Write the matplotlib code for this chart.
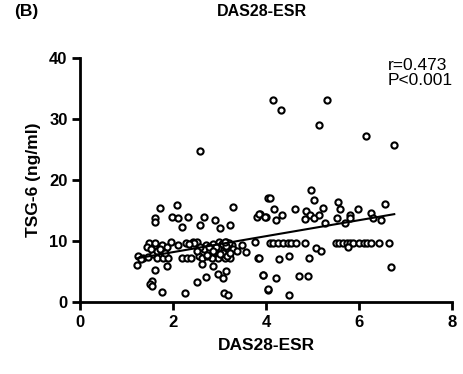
import matplotlib.pyplot as plt
import numpy as np

plt.rcParams['font.family'] = ['Liberation Sans', 'DejaVu Sans']

# DAS28-ESR (x) vs TSG-6 ng/ml (y)
das28 = [
    # high outliers
    4.16, 4.33, 5.32, 5.15, 6.15, 6.76, 2.59,
    # upper group, left half
    1.72, 2.08, 1.62, 1.62, 1.98, 2.11, 2.32, 2.19, 2.66, 2.59, 2.90, 3.01, 3.23, 3.29,
    3.80, 3.87, 3.99, 4.04, 4.08, 3.86, 3.97,
    # upper group, right half
    4.18, 4.22, 4.35, 4.63, 4.96, 5.04, 4.86, 4.94, 4.85, 5.04, 5.15, 5.22, 5.26,
    5.54, 5.60, 5.53, 5.80, 5.81, 5.71, 5.99, 6.26, 6.30, 6.48, 6.57,
    # dense band, left
    1.23, 1.25, 1.36, 1.47, 1.56, 1.66, 1.78, 1.90, 1.49, 1.43, 1.58, 1.65, 1.76, 1.88,
    1.72, 1.52, 1.32, 1.62, 1.82, 1.95,
    # dense band, middle
    2.11, 2.19, 2.29, 2.39, 2.28, 2.44, 2.51, 2.56, 2.62, 2.71, 2.76, 2.81, 2.85, 2.90,
    2.94, 2.97, 3.01, 3.05, 3.10, 3.14, 3.15, 3.19, 3.23, 3.26, 3.30, 2.83, 2.72, 2.67,
    2.59, 2.51, 2.98, 3.06, 3.12, 2.88, 2.78, 3.20, 3.03, 2.93, 2.46, 2.35,
    3.08, 3.13, 3.17, 2.96, 3.00, 2.92, 3.22, 3.11, 2.86, 2.74,
    3.38, 3.58, 3.48, 3.76, 3.83,
    # row at ~9.7, right
    4.08, 4.15, 4.25, 4.36, 4.47, 4.54, 4.65, 4.83,
    5.51, 5.58, 5.65, 5.74, 5.81, 5.88, 6.01, 6.10, 6.17, 6.26, 6.43, 6.64,
    5.76, 5.08, 5.19, 3.86, 4.29, 4.49, 4.92, 6.69,
    # low values
    1.61, 1.88, 1.54, 1.50, 1.54, 1.76, 2.26, 2.52, 2.70, 2.62, 2.87, 2.97, 3.07, 3.15,
    3.10, 3.19, 3.93, 4.04, 3.93, 4.22, 4.72, 4.90, 4.05, 4.49,
]
tsg6 = [
    33.2, 31.5, 33.1, 29.1, 27.3, 25.8, 24.8,
    15.4, 15.9, 13.8, 13.1, 13.9, 13.8, 13.9, 12.3, 13.9, 12.6, 13.4, 12.1, 12.6, 15.6,
    14.0, 14.5, 13.9, 17.0, 17.0, 14.4, 14.0,
    15.3, 13.5, 14.2, 15.2, 18.3, 16.8, 14.9, 14.2, 13.6, 13.8, 14.2, 15.4, 12.9,
    16.4, 15.2, 13.8, 14.2, 13.8, 12.9, 15.2, 14.6, 13.8, 13.5, 16.1,
    6.1, 7.6, 7.3, 7.4, 7.9, 7.2, 7.2, 7.3, 9.7, 9.0, 9.1, 8.4, 9.3, 9.1,
    8.7, 8.7, 7.0, 9.6, 8.0, 9.8,
    9.4, 7.3, 7.2, 7.2, 9.6, 9.8, 9.8, 7.6, 7.2, 9.3, 8.4, 7.6, 9.5, 8.7,
    7.9, 7.3, 9.4, 8.4, 7.6, 9.8, 9.0, 8.2, 7.3, 9.4, 8.7, 7.2, 7.6, 8.7,
    9.0, 8.4, 9.8, 9.5, 7.3, 8.2, 9.0, 9.6, 7.9, 8.7, 9.6, 9.5,
    8.0, 9.2, 7.5, 8.9, 7.8, 9.0, 8.1, 9.9, 8.3, 7.7,
    8.3, 8.2, 9.4, 9.8, 7.2,
    9.7, 9.7, 9.7, 9.7, 9.7, 9.7, 9.7, 9.7,
    9.7, 9.7, 9.7, 9.7, 9.7, 9.7, 9.7, 9.7, 9.7, 9.7, 9.7, 9.7,
    9.0, 8.9, 8.3, 7.2, 7.1, 7.5, 7.2, 5.8,
    5.2, 5.9, 3.5, 3.0, 2.6, 1.7, 1.4, 3.2, 4.1, 6.3, 5.9, 4.6, 3.9, 5.1,
    1.5, 1.2, 4.5, 2.0, 4.5, 4.0, 4.3, 4.3, 2.1, 1.2,
]

r_text = "r=0.473\nP<0.001"

x = np.array(das28)
y = np.array(tsg6)

fig = plt.figure(figsize=(4.63, 3.74), dpi=100)
ax = fig.add_axes([0.173, 0.1925, 0.803, 0.652])

ax.scatter(x, y, s=20, facecolors='white', edgecolors='black', linewidths=1.5, zorder=3)

# linear fit over the data range
slope, intercept = np.polyfit(x, y, 1)
xl = np.array([x.min(), x.max()])
ax.plot(xl, slope * xl + intercept, color='black', lw=1.5, zorder=4)

ax.set_xlim(0, 8)
ax.set_ylim(0, 40)
ax.set_xticks([0, 2, 4, 6, 8])
ax.set_yticks([0, 10, 20, 30, 40])
for s in ['top', 'right']:
    ax.spines[s].set_visible(False)
for s in ['left', 'bottom']:
    ax.spines[s].set_linewidth(2)
ax.tick_params(width=2, length=6, labelsize=12, pad=3)
for lab in ax.get_xticklabels() + ax.get_yticklabels():
    lab.set_fontweight('bold')

ax.set_xlabel('DAS28-ESR', fontsize=12.5, fontweight='bold', labelpad=6)
ax.set_ylabel('TSG-6 (ng/ml)', fontsize=12.5, fontweight='bold', labelpad=6)

fig.text(0.566, 0.968, 'DAS28-ESR', ha='center', va='center', fontsize=11.5, fontweight='bold')
fig.text(0.03, 0.968, '(B)', ha='left', va='center', fontsize=12.5, fontweight='bold')
fig.text(0.838, 0.845, r_text, ha='left', va='top', fontsize=12.5, linespacing=1.0)

fig.savefig('out.png', dpi=100)
